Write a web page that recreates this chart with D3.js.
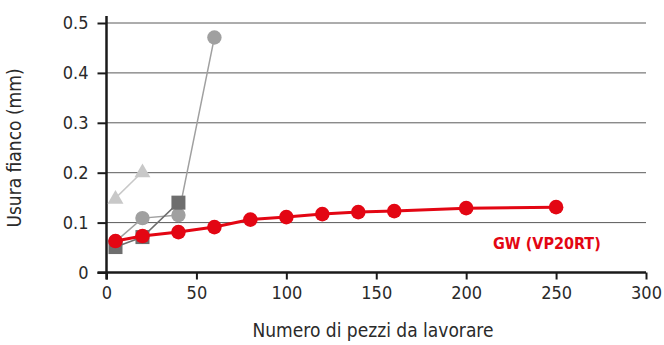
<!DOCTYPE html>
<html>
<head>
<meta charset="utf-8">
<script src="https://cdn.jsdelivr.net/npm/d3@7"></script>
<style>
  html, body { margin: 0; padding: 0; background: #fff; }
  svg { display: block; font-family: "DejaVu Sans Condensed", "DejaVu Sans", sans-serif; }
</style>
</head>
<body>
<svg id="chart" width="664" height="345"></svg>
<script>
// Flank wear vs number of machined parts
const xTicks = [0, 50, 100, 150, 200, 250, 300];
const yTicks = [0, 0.1, 0.2, 0.3, 0.4, 0.5];

const gwX = [5, 20, 40, 60, 80, 100, 120, 140, 160, 200, 250];
const gwY = [0.063, 0.073, 0.081, 0.091, 0.106, 0.111, 0.117, 0.121, 0.123, 0.129, 0.131];

const circX = [5, 20, 40, 60];
const circY = [0.062, 0.109, 0.115, 0.471];

const squareX = [5, 20, 40];
const squareY = [0.051, 0.071, 0.140];

const triX = [5, 20];
const triY = [0.149, 0.202];

const gwLabel = "GW (VP20RT)";
const xTitle = "Numero di pezzi da lavorare";
const yTitle = "Usura fianco (mm)";

const svg = d3.select("#chart");
const x = d3.scaleLinear().domain([0, 300]).range([106.5, 646]);
const y = d3.scaleLinear().domain([0, 0.5]).range([272.5, 23]);

// horizontal grid
svg.append("g")
  .selectAll("line")
  .data(yTicks.filter(d => d > 0))
  .join("line")
  .attr("x1", x(0)).attr("x2", x(300))
  .attr("y1", d => y(d)).attr("y2", d => y(d))
  .attr("stroke", "#5a5a5a").attr("stroke-width", 1);

// axes
const xAxis = svg.append("g")
  .attr("transform", `translate(0,${y(0)})`)
  .call(d3.axisBottom(x).tickValues(xTicks).tickSize(7).tickPadding(7).tickFormat(d3.format("d")));
const yAxis = svg.append("g")
  .attr("transform", `translate(${x(0)},0)`)
  .call(d3.axisLeft(y).tickValues(yTicks).tickSize(9).tickPadding(9).tickFormat(d => d === 0 ? "0" : d3.format(".1f")(d)));

[xAxis, yAxis].forEach(g => {
  g.selectAll("path.domain").attr("stroke", "#1a1a1a").attr("stroke-width", 2.5);
  g.selectAll(".tick line").attr("stroke", "#1a1a1a").attr("stroke-width", 2);
  g.selectAll(".tick text").attr("fill", "#2a2a2a").attr("font-size", 18)
    .attr("font-family", "'DejaVu Sans Condensed', 'DejaVu Sans', sans-serif");
});
xAxis.select("path.domain").attr("d", `M${x(0) - 9},0H${x(300)}`);
yAxis.select("path.domain").attr("d", `M0,${y(0) + 7}V16`);

const line = (xs, ys) => d3.line().x((d, i) => x(xs[i])).y((d, i) => y(ys[i]))(xs);

// triangles series
svg.append("path").attr("d", line(triX, triY)).attr("fill", "none")
  .attr("stroke", "#c8c8c8").attr("stroke-width", 1.5);
svg.append("g").selectAll("path").data(triX).join("path")
  .attr("d", d3.symbol(d3.symbolTriangle, 110))
  .attr("transform", (d, i) => `translate(${x(d)},${y(triY[i]) + 1})`)
  .attr("fill", "#c8c8c8");

// gray circles series
svg.append("path").attr("d", line(circX, circY)).attr("fill", "none")
  .attr("stroke", "#a0a0a0").attr("stroke-width", 1.5);
svg.append("g").selectAll("circle").data(circX).join("circle")
  .attr("cx", d => x(d)).attr("cy", (d, i) => y(circY[i])).attr("r", 7.2)
  .attr("fill", "#a0a0a0");

// squares series
svg.append("path").attr("d", line(squareX, squareY)).attr("fill", "none")
  .attr("stroke", "#6e6e6e").attr("stroke-width", 1.5);
svg.append("g").selectAll("rect").data(squareX).join("rect")
  .attr("x", d => x(d) - 7).attr("y", (d, i) => y(squareY[i]) - 7)
  .attr("width", 14).attr("height", 14)
  .attr("fill", "#6e6e6e");

// GW series
svg.append("path").attr("d", line(gwX, gwY)).attr("fill", "none")
  .attr("stroke", "#e30613").attr("stroke-width", 3);
svg.append("g").selectAll("circle").data(gwX).join("circle")
  .attr("cx", d => x(d)).attr("cy", (d, i) => y(gwY[i])).attr("r", 7.3)
  .attr("fill", "#e30613");

svg.append("text").text(gwLabel)
  .attr("x", 493).attr("y", 249)
  .attr("fill", "#e30613").attr("font-size", 16).attr("font-weight", "bold");

// titles
svg.append("text").text(xTitle)
  .attr("x", 373).attr("y", 337).attr("text-anchor", "middle")
  .attr("fill", "#2a2a2a").attr("font-size", 19);
svg.append("text").text(yTitle)
  .attr("transform", "translate(21,148) rotate(-90)")
  .attr("text-anchor", "middle")
  .attr("fill", "#2a2a2a").attr("font-size", 19);
</script>
</body>
</html>
